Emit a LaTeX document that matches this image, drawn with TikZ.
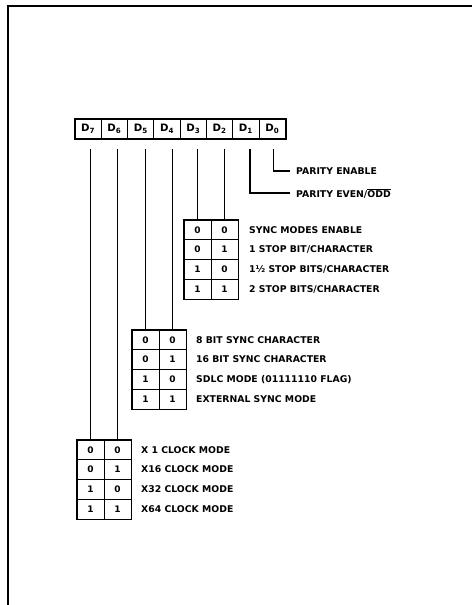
\documentclass[tikz,border=0pt]{standalone}
\usepackage{fontspec}
\setmainfont{DejaVu Sans}
\begin{document}
\begin{tikzpicture}[x=1pt,y=-1pt,
  cell/.style={draw, line width=0.9pt, minimum width=27pt, minimum height=19.75pt, inner sep=0pt,
    font=\bfseries\fontsize{9}{10}\selectfont},
  reg/.style={draw, line width=0.9pt, minimum width=26.3pt, minimum height=19pt, inner sep=0pt,
    font=\bfseries\fontsize{10.2}{11}\selectfont},
  lab/.style={anchor=west, inner sep=0pt, font=\bfseries\fontsize{9.3}{11}\selectfont},
  wire/.style={line width=1.3pt},
  outer/.style={line width=1.8pt}]
\useasboundingbox (0,0) rectangle (472,605);
% frame
\draw[line width=1.2pt] (8,605) -- (8,6) -- (472,6);
% register
\foreach \i/\d in {0/7,1/6,2/5,3/4,4/3,5/2,6/1,7/0}
  \node[reg] (r\d) at (88.15+26.3*\i,129) {D\textsubscript{\d}};
\draw[outer] (r7.north west) rectangle (r0.south east);
\coordinate (ltop) at (0,149);
% tables
\foreach \t/\x/\y in {a/184/220, b/132/330, c/77/440}{
  \foreach \r/\u/\v in {1/0/0,2/0/1,3/1/0,4/1/1}{
    \node[cell] (\t\r1) at (\x+13.5,\y+19.75*\r-9.875) {\u};
    \node[cell] (\t\r2) at (\x+40.5,\y+19.75*\r-9.875) {\v};
  }
  \draw[outer] (\t11.north west) rectangle (\t42.south east);
}
% labels
\node[lab] (a1l) at (249,230) {SYNC MODES ENABLE};
\node[lab] (a2l) at (249,249.5) {1 STOP BIT/CHARACTER};
\node[lab] (a3l) at (249,269.5) {1½ STOP BITS/CHARACTER};
\node[lab] (a4l) at (249,289) {2 STOP BITS/CHARACTER};
\node[lab] (b1l) at (196,340) {8 BIT SYNC CHARACTER};
\node[lab] (b2l) at (196,359.5) {16 BIT SYNC CHARACTER};
\node[lab] (b3l) at (196,379.5) {SDLC MODE (01111110 FLAG)};
\node[lab] (b4l) at (196,399) {EXTERNAL SYNC MODE};
\node[lab] (c1l) at (141,450) {X 1 CLOCK MODE};
\node[lab] (c2l) at (141,469.5) {X16 CLOCK MODE};
\node[lab] (c3l) at (141,489.5) {X32 CLOCK MODE};
\node[lab] (c4l) at (141,509) {X64 CLOCK MODE};
\node[lab] (p0) at (296,171) {PARITY ENABLE};
\node[lab] (p1) at (296,193) {PARITY EVEN/$\overline{\hbox{ODD}}$};
% wires
\foreach \t in {a,b,c}{
  \draw[wire] (\t11.north |- ltop) -- (\t11.north);
  \draw[wire] (\t12.north |- ltop) -- (\t12.north);
}
\draw[wire] ([xshift=4pt]r1.center |- ltop) |- ([xshift=-6pt]p1.west);
\draw[wire] ([xshift=1pt]r0.center |- ltop) |- ([xshift=-6pt]p0.west);
\end{tikzpicture}
\end{document}
